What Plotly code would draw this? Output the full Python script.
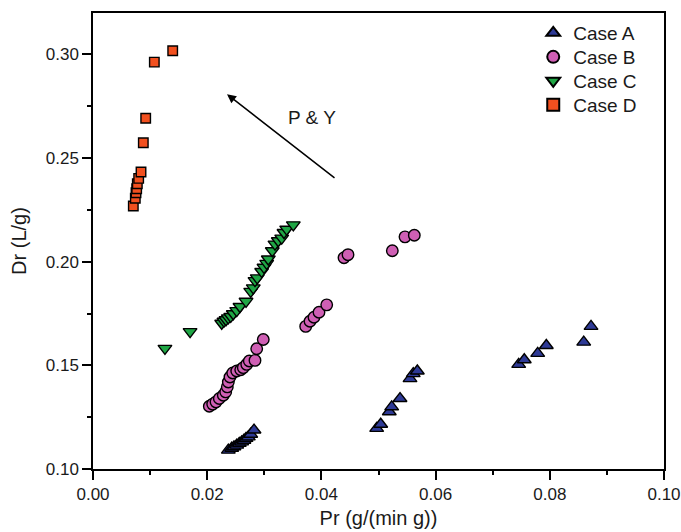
import plotly.graph_objects as go

# Case A (blue up-triangles)
case_a_x = [0.02370, 0.02429, 0.02469, 0.02517, 0.02562, 0.02604, 0.02644, 0.02680, 0.02720, 0.02762, 0.02820,
            0.04968, 0.05039, 0.05189, 0.05231, 0.05377, 0.05552, 0.05609, 0.05680,
            0.07455, 0.07553, 0.07788, 0.07939, 0.08594, 0.08722]
case_a_y = [0.1091, 0.1100, 0.1107, 0.1115, 0.1124, 0.1131, 0.1139, 0.1148, 0.1155, 0.1168, 0.1188,
            0.1196, 0.1216, 0.1276, 0.1300, 0.1340, 0.1436, 0.1460, 0.1473,
            0.1505, 0.1527, 0.1558, 0.1596, 0.1612, 0.1688]

# Case B (pink circles)
case_b_x = [0.02037, 0.02096, 0.02154, 0.02212, 0.02282, 0.02324, 0.02352, 0.02370, 0.02399, 0.02447,
            0.02517, 0.02587, 0.02632, 0.02692, 0.02737, 0.02837, 0.02867, 0.02982,
            0.03725, 0.03800, 0.03870, 0.03958, 0.04093,
            0.04396, 0.04466, 0.05242, 0.05464, 0.05627]
case_b_y = [0.1303, 0.1313, 0.1324, 0.1340, 0.1356, 0.1372, 0.1396, 0.1420, 0.1444, 0.1463,
            0.1473, 0.1479, 0.1489, 0.1505, 0.1521, 0.1524, 0.1580, 0.1625,
            0.1688, 0.1713, 0.1732, 0.1756, 0.1792,
            0.2019, 0.2034, 0.2053, 0.2120, 0.2128]

# Case C (green down-triangles)
case_c_x = [0.0126, 0.0170,
            0.02254, 0.02294, 0.02329, 0.02370, 0.02412, 0.02457, 0.02517, 0.02574, 0.02680, 0.02762,
            0.02807, 0.02837, 0.02877, 0.02954, 0.02995, 0.03042, 0.03070, 0.03140, 0.03187, 0.03245,
            0.03305, 0.03345, 0.03392, 0.03508]
case_c_y = [0.1582, 0.1663,
            0.1703, 0.1713, 0.1720, 0.1729, 0.1736, 0.1749, 0.1764, 0.1784, 0.1809, 0.1857,
            0.1874, 0.1909, 0.1922, 0.1953, 0.1973, 0.1992, 0.2013, 0.2053, 0.2085, 0.2101,
            0.2114, 0.2141, 0.2157, 0.2178]

# Case D (orange squares)
case_d_x = [0.00706, 0.00741, 0.00753, 0.00765, 0.00776, 0.00800, 0.00841, 0.00881, 0.00923, 0.01074, 0.01396]
case_d_y = [0.2269, 0.2306, 0.2333, 0.2352, 0.2376, 0.2402, 0.2433, 0.2574, 0.2692, 0.2963, 0.3018]

FONT = "Liberation Sans, Arial, sans-serif"
TXT = "#1a1a1a"

fig = go.Figure()
series = [
    ("Case A", case_a_x, case_a_y, "triangle-up", "#2E3A96", 12, "legend"),
    ("Case B", case_b_x, case_b_y, "circle", "#CF5FB4", 11.5, "legend2"),
    ("Case C", case_c_x, case_c_y, "triangle-down", "#1FA645", 12, "legend3"),
    ("Case D", case_d_x, case_d_y, "square", "#F2501F", 9.5, "legend4"),
]
for name, xs, ys, sym, col, sz, lg in series:
    fig.add_trace(go.Scatter(
        x=xs, y=ys, mode="markers", name=name, legend=lg, showlegend=True,
        marker=dict(symbol=sym, color=col, size=sz, line=dict(color="black", width=1.4)),
    ))

axis_common = dict(
    showgrid=False, zeroline=False, showline=True, linecolor="black", linewidth=1.5,
    mirror=True, ticks="outside", ticklen=9, tickwidth=1.5, tickcolor="black",
    automargin=False,
    tickfont=dict(family=FONT, size=17, color=TXT),
)
fig.update_xaxes(
    range=[0, 0.10], dtick=0.02, tick0=0, tickformat=".2f",
    minor=dict(dtick=0.01, tick0=0, ticks="outside", ticklen=4, tickwidth=1.5, tickcolor="black"),
    title=dict(text="Pr (g/(min g))", font=dict(family=FONT, size=20, color=TXT), standoff=8),
    **axis_common,
)
fig.update_yaxes(
    range=[0.10, 0.32], dtick=0.05, tick0=0.10, tickformat=".2f",
    minor=dict(dtick=0.025, tick0=0.10, ticks="outside", ticklen=4, tickwidth=1.5, tickcolor="black"),
    title=dict(text="Dr (L/g)", font=dict(family=FONT, size=20, color=TXT), standoff=14),
    **axis_common,
)

fig.add_annotation(
    x=0.02347, y=0.2808, ax=0.04256, ay=0.2399, xref="x", yref="y", axref="x", ayref="y",
    text="", showarrow=True, arrowhead=2, arrowsize=1.2, arrowwidth=1.5, arrowcolor="black",
)
fig.add_annotation(
    x=0.0383, y=0.2694, xref="x", yref="y", text="P &amp; Y", showarrow=False,
    font=dict(family=FONT, size=19, color=TXT),
)

leg_common = dict(x=0.771, xanchor="left", yanchor="middle", visible=True,
                  font=dict(family=FONT, size=19, color=TXT),
                  bgcolor="rgba(0,0,0,0)", borderwidth=0, itemsizing="constant")
fig.update_layout(
    width=681, height=532,
    margin=dict(l=93, r=17, t=13, b=63),
    plot_bgcolor="white", paper_bgcolor="white",
    showlegend=True,
    legend=dict(y=0.9561, **leg_common),
    legend2=dict(y=0.9035, **leg_common),
    legend3=dict(y=0.8509, **leg_common),
    legend4=dict(y=0.7982, **leg_common),
)

fig.write_html("out.html")
